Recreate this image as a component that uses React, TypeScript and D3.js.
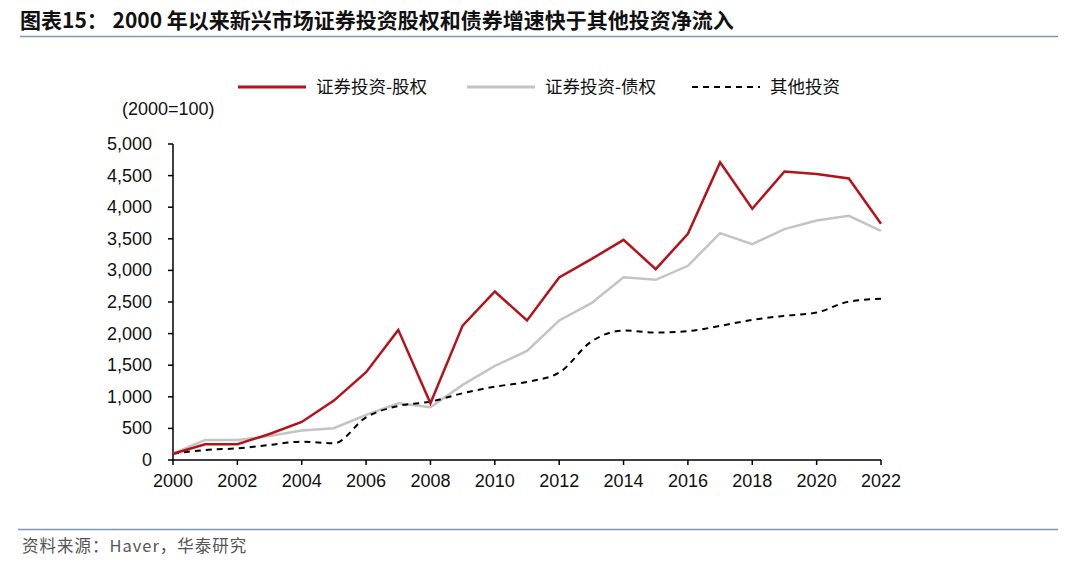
import * as d3 from "d3";

const years = d3.range(2000, 2023);
const equity = [100, 249, 249, 412, 602, 940, 1389, 2059, 898, 2127, 2666, 2207, 2888, 3178, 3484, 3020, 3579, 4709, 3975, 4566, 4524, 4455, 3738];
const debt = [100, 317, 317, 380, 465, 502, 713, 898, 835, 1188, 1489, 1726, 2207, 2481, 2893, 2851, 3073, 3590, 3416, 3653, 3790, 3864, 3627];
const other = [100, 158, 185, 238, 290, 264, 676, 855, 924, 1056, 1161, 1235, 1383, 1874, 2048, 2017, 2038, 2122, 2217, 2281, 2333, 2507, 2550];
const yTicks = [0, 500, 1000, 1500, 2000, 2500, 3000, 3500, 4000, 4500, 5000];
const xTicks = d3.range(2000, 2023, 2);

const W = 1080;
const H = 568;
const left = 173;
const right = 881;
const top = 144;
const bottom = 460;

const sans = "'Liberation Sans', Arial, sans-serif";
const cjk = "'Noto Sans CJK SC', sans-serif";

export default function App() {
  const x = d3.scaleLinear().domain([2000, 2022]).range([left, right]);
  const y = d3.scaleLinear().domain([0, 5000]).range([bottom, top]);

  const straight = d3
    .line<number>()
    .x((_, i) => x(years[i]))
    .y((d) => y(d));
  const smooth = d3
    .line<number>()
    .x((_, i) => x(years[i]))
    .y((d) => y(d))
    .curve(d3.curveMonotoneX);

  const series = [
    { name: "证券投资-股权", values: equity, color: "#b5121b", dash: "", gen: straight, lx: 238 },
    { name: "证券投资-债权", values: debt, color: "#c4c4c4", dash: "", gen: straight, lx: 467 },
    { name: "其他投资", values: other, color: "#000000", dash: "6,5", gen: smooth, lx: 692 },
  ];

  return (
    <svg width={W} height={H} style={{ position: "absolute", left: 0, top: 0, background: "#fff" }}>
      {/* title */}
      <text x={20} y={28} fontFamily={cjk} fontSize={21} fontWeight="bold" fill="#111">
        图表15：  2000 年以来新兴市场证券投资股权和债券增速快于其他投资净流入
      </text>
      <line x1={20} x2={1058} y1={36.5} y2={36.5} stroke="#7f97b3" strokeWidth={1.5} />

      {/* legend */}
      {series.map((s) => (
        <g key={s.name}>
          <line
            x1={s.lx}
            x2={s.lx + 68}
            y1={87}
            y2={87}
            stroke={s.color}
            strokeWidth={s.dash ? 2 : 3}
            strokeDasharray={s.dash}
          />
          <text x={s.lx + 78} y={93} fontFamily={cjk} fontSize={17.5} fill="#111">
            {s.name}
          </text>
        </g>
      ))}

      <text x={122} y={115} fontFamily={sans} fontSize={18} fill="#111">
        (2000=100)
      </text>

      {/* y axis */}
      <line x1={left} x2={left} y1={top} y2={bottom} stroke="#000" strokeWidth={1.5} />
      {yTicks.map((t) => (
        <g key={t}>
          <line x1={left - 5} x2={left} y1={y(t)} y2={y(t)} stroke="#000" strokeWidth={1.5} />
          <text x={152} y={y(t) + 6} textAnchor="end" fontFamily={sans} fontSize={18} fill="#111">
            {d3.format(",")(t)}
          </text>
        </g>
      ))}

      {/* x axis */}
      <line x1={left} x2={right} y1={bottom} y2={bottom} stroke="#000" strokeWidth={1.5} />
      {xTicks.map((t) => (
        <g key={t}>
          <line x1={x(t)} x2={x(t)} y1={bottom} y2={bottom + 5} stroke="#000" strokeWidth={1.5} />
          <text x={x(t)} y={487} textAnchor="middle" fontFamily={sans} fontSize={18} fill="#111">
            {t}
          </text>
        </g>
      ))}

      {/* lines */}
      {[series[1], series[2], series[0]].map((s) => (
        <path
          key={s.name}
          d={s.gen(s.values) ?? ""}
          fill="none"
          stroke={s.color}
          strokeWidth={s.dash ? 2 : 2.5}
          strokeDasharray={s.dash}
          strokeLinejoin="miter"
        />
      ))}

      {/* footer */}
      <line x1={18} x2={1058} y1={529.5} y2={529.5} stroke="#7f97b3" strokeWidth={1.5} />
      <text x={22} y={552} fontFamily={cjk} fontSize={16.5} fill="#555" letterSpacing={1}>
        资料来源：Haver，华泰研究
      </text>
    </svg>
  );
}
